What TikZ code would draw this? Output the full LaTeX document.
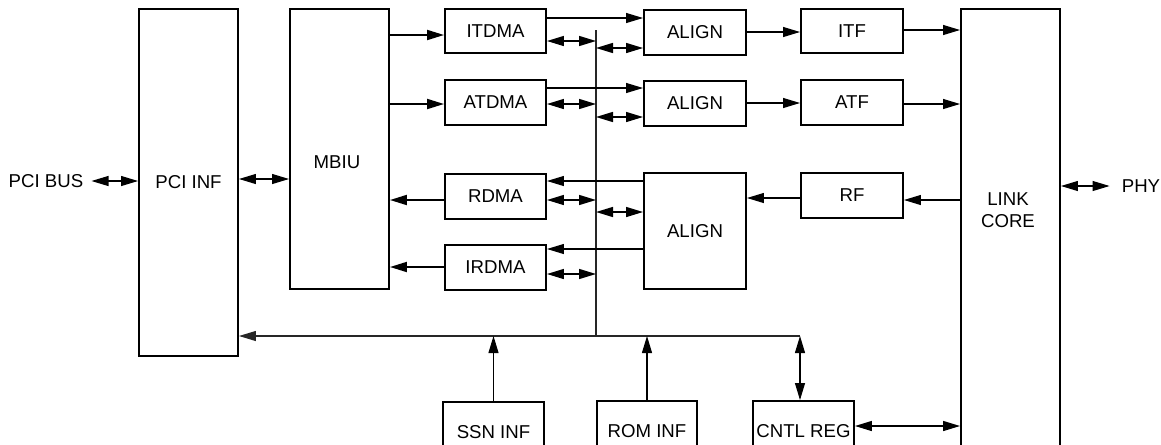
\documentclass[tikz,border=0pt]{standalone}
\usepackage{fontspec}
\setmainfont{Liberation Sans}
\usetikzlibrary{arrows.meta}
\begin{document}
\begin{tikzpicture}[x=0.02cm,y=-0.02cm,
  every node/.style={font=\fontsize{10.6}{12.5}\selectfont},
  box/.style={draw, line width=1.1pt, inner sep=0pt},
  sz/.style 2 args={minimum width={#1*0.02cm}, minimum height={#2*0.02cm}},
  oneway/.style={-{Triangle[length=0.34cm,width=0.2cm]}},
  twoway/.style={{Triangle[length=0.34cm,width=0.2cm]}-{Triangle[length=0.34cm,width=0.2cm]}},
  arrA/.style={line width=1.1pt,oneway},
  arrT/.style={line width=0.6pt,oneway},
  arrU/.style={line width=0.6pt,twoway},
  arrD/.style={line width=0.8pt,twoway},
  busline/.style={line width=0.6pt,black!85},
]
\useasboundingbox (0,0) rectangle (1161,444);
\clip (0,0) rectangle (1161,444);

% blocks
\node[box, sz={99}{347}] (pciinf) at (188.5,182.5) {PCI INF};
\node[box, sz={99}{280}] (mbiu) at (339.5,149) {};
\node (mbiut) at (337,162) {MBIU};
\node[box, sz={101}{44}] (itdma) at (495.5,31) {ITDMA};
\node[box, sz={101}{45}] (atdma) at (495.5,102.5) {ATDMA};
\node[box, sz={101}{45}] (rdma) at (495.5,196.5) {RDMA};
\node[box, sz={101}{45}] (irdma) at (495.5,267.5) {IRDMA};
\node[box, sz={102}{45}] (align1) at (695,32.5) {ALIGN};
\node[box, sz={102}{45}] (align2) at (695,103.5) {ALIGN};
\node[box, sz={102}{116}] (align3) at (695,231) {ALIGN};
\node[box, sz={102}{44}] (itf) at (852,31) {ITF};
\node[box, sz={102}{45}] (atf) at (852,102.5) {ATF};
\node[box, sz={102}{45}] (rf) at (852,195.5) {RF};
\node[box, sz={99}{461}] (link) at (1010.5,239.5) {};
\node[align=center] (linkt) at (1008,210) {LINK\\CORE};
\node[box, sz={101}{60}] (ssn) at (493.5,432) {SSN INF};
\node[box, sz={100}{60}] (rom) at (647,431) {ROM INF};
\node[box, sz={101}{60}] (cntl) at (803.5,431) {CNTL REG};
\node[inner sep=4.5pt] (pcibus) at (46,181) {PCI BUS};
\node[inner sep=6.8pt] (phy) at (1141,186) {PHY};

% internal bus
\coordinate (vtop) at (596,30);
\coordinate (vbot) at (596,336);
\coordinate (busR) at (800,336);
\draw[busline] (vtop) -- (vbot);
\draw[busline,oneway] (busR) -- (pciinf.east |- busR);
\draw[arrT] (ssn.north) -- (ssn.north |- busR);
\draw[arrT] (rom.north) -- (rom.north |- busR);
\draw[arrU] (cntl.north -| busR) -- (busR);

% left side
\draw[arrU] (pcibus.east) -- (pciinf.west |- pcibus.east);
\draw[arrU] (pciinf.east |- 0,179) -- (mbiu.west |- 0,179);

% MBIU to DMA
\draw[arrA] (mbiu.east |- 0,35) -- (itdma.west |- 0,35);
\draw[arrA] (mbiu.east |- 0,104) -- (atdma.west |- 0,104);
\draw[arrA] (rdma.west |- 0,200) -- (mbiu.east |- 0,200);
\draw[arrA] (irdma.west |- 0,267) -- (mbiu.east |- 0,267);

% DMA to ALIGN
\draw[arrT] (itdma.east |- 0,18) -- (align1.west |- 0,18);
\draw[arrT] (atdma.east |- 0,88) -- (align2.west |- 0,88);
\draw[arrT] (align3.west |- 0,181) -- (rdma.east |- 0,181);
\draw[arrT] (align3.west |- 0,249) -- (irdma.east |- 0,249);

% bus double arrows
\draw[arrD] (itdma.east |- 0,41) -- (vtop |- 0,41);
\draw[arrD] (vtop |- 0,48) -- (align1.west |- 0,48);
\draw[arrD] (atdma.east |- 0,104) -- (vtop |- 0,104);
\draw[arrD] (vtop |- 0,117) -- (align2.west |- 0,117);
\draw[arrD] (rdma.east |- 0,200) -- (vtop |- 0,200);
\draw[arrD] (vtop |- 0,212) -- (align3.west |- 0,212);
\draw[arrD] (irdma.east |- 0,274) -- (vtop |- 0,274);

% right side
\draw[arrT] (align1.east |- 0,32) -- (itf.west |- 0,32);
\draw[arrT] (align2.east |- 0,103) -- (atf.west |- 0,103);
\draw[arrT] (rf.west |- 0,198) -- (align3.east |- 0,198);
\draw[arrT] (itf.east |- 0,30) -- (link.west |- 0,30);
\draw[arrT] (atf.east |- 0,104) -- (link.west |- 0,104);
\draw[arrT] (link.west |- 0,200) -- (rf.east |- 0,200);
\draw[arrU] (link.east |- phy.west) -- (phy.west);
\draw[arrD] (cntl.east |- 0,426) -- (link.west |- 0,426);
\end{tikzpicture}
\end{document}
